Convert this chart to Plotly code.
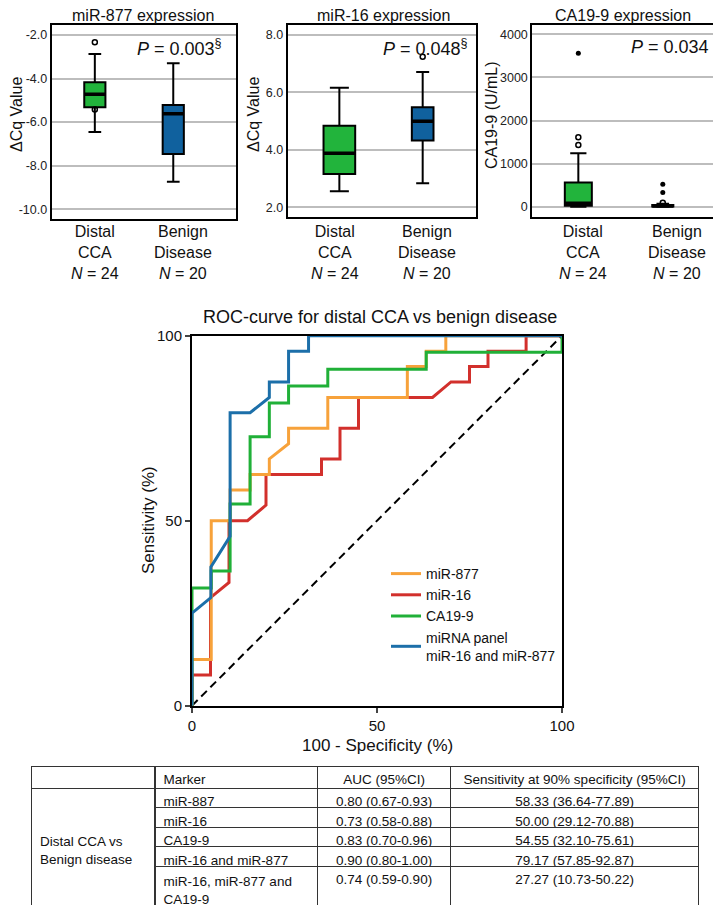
import plotly.graph_objects as go

W, H = 721, 906
PAGE_OFFSET = 8  # the page body margin shifts the figure by 8 px
FONT = "Liberation Sans, Arial, sans-serif"

# --- box plot summaries ---
groups = ["Distal<br>CCA", "Benign<br>Disease"]
group_n = [24, 20]
box_colors = ["#22B43C", "#10619E"]

mir877_q1 = [-5.32, -7.47]
mir877_median = [-4.72, -5.62]
mir877_q3 = [-4.17, -5.21]
mir877_lower = [-6.46, -8.74]
mir877_upper = [-2.87, -3.30]
mir877_out_x = [0, 0]
mir877_out_y = [-2.33, -5.42]

mir16_q1 = [3.16, 4.33]
mir16_median = [3.88, 5.00]
mir16_q3 = [4.84, 5.48]
mir16_lower = [2.56, 2.84]
mir16_upper = [6.16, 6.71]
mir16_out_x = [1]
mir16_out_y = [7.24]

ca199_q1 = [20, 6]
ca199_median = [80, 18]
ca199_q3 = [560, 38]
ca199_lower = [0, 0]
ca199_upper = [1240, 70]
ca199_open_x = [0, 0, 1]
ca199_open_y = [1432, 1611, 92]
ca199_far_x = [0, 1, 1]
ca199_far_y = [3560, 330, 520]

# --- ROC curves: 100 - specificity (x) vs sensitivity (y) ---
roc_877_x = [0, 0, 5.2, 5.2, 10.3, 10.3, 15.7, 15.7, 20.9, 20.9, 26.1, 26.1, 36.7, 36.7,
             58.2, 58.2, 63.3, 63.3, 68.6, 68.6, 100]
roc_877_y = [0, 12.5, 12.5, 50, 50, 58.3, 58.3, 62.5, 62.5, 66.7, 70.8, 75, 75, 83.3,
             83.3, 91.7, 91.7, 95.8, 95.8, 100, 100]
roc_16_x = [0, 0, 5, 5, 10, 10, 15, 20, 20, 35, 35, 40, 40, 45, 45, 65, 70, 75, 75, 80, 80,
            90.3, 90.3, 100]
roc_16_y = [0, 8.3, 8.3, 29.2, 33.3, 50, 50, 54.2, 62.5, 62.5, 66.7, 66.7, 75, 75, 83.3,
            83.3, 87.5, 87.5, 91.7, 91.7, 95.8, 95.8, 100, 100]
roc_ca_x = [0, 0, 5.2, 5.2, 10.3, 10.3, 15.7, 15.7, 20.9, 20.9, 26.1, 26.1, 36.7, 36.7,
            63.3, 63.3, 100, 100]
roc_ca_y = [0, 31.8, 31.8, 36.4, 36.4, 54.5, 54.5, 72.7, 72.7, 81.8, 81.8, 86.4, 86.4,
            90.9, 90.9, 95.5, 95.5, 100]
roc_panel_x = [0, 0, 5.1, 5.1, 10.3, 10.3, 15.7, 20.9, 20.9, 26.1, 26.1, 31.5, 31.5, 100]
roc_panel_y = [0, 25, 29.2, 37.5, 45.8, 79.2, 79.2, 83.3, 87.5, 87.5, 95.8, 95.8, 100, 100]

# --- table ---
table_header = ["Marker", "AUC (95%CI)", "Sensitivity at 90% specificity (95%CI)"]
table_markers = ["miR-887", "miR-16", "CA19-9", "miR-16 and miR-877",
                 "miR-16, miR-877 and<br>CA19-9"]
table_auc = ["0.80 (0.67-0.93)", "0.73 (0.58-0.88)", "0.83 (0.70-0.96)",
             "0.90 (0.80-1.00)", "0.74 (0.59-0.90)"]
table_sens = ["58.33 (36.64-77.89)", "50.00 (29.12-70.88)", "54.55 (32.10-75.61)",
              "79.17 (57.85-92.87)", "27.27 (10.73-50.22)"]
table_group = "Distal CCA vs<br>Benign disease"


def px(x):
    return (x - PAGE_OFFSET) / W


def py(y):
    return 1 - (y - PAGE_OFFSET) / H


def note(text, x, y, size, **kw):
    d = dict(text=text, x=px(x), y=py(y), xref="paper", yref="paper", showarrow=False,
             xanchor="center", yanchor="middle", font=dict(size=size))
    d.update(kw)
    return d


fig = go.Figure()

panels = [
    dict(ax="", title="miR-877 expression", ytitle="ΔCq Value", p="0.003<sup>§</sup>",
         q1=mir877_q1, med=mir877_median, q3=mir877_q3, lo=mir877_lower, hi=mir877_upper,
         widths=[0.27, 0.27], xr=[-0.55, 1.8], yr=[-10.45, -1.54],
         ticks=[-2, -4, -6, -8, -10], fmt="{:.1f}",
         dom=[51.7, 236], ydom=[25, 219], title_x=143, ytitle_x=16, p_x=224,
         label_x=[95, 183]),
    dict(ax="2", title="miR-16 expression", ytitle="ΔCq Value", p="0.048<sup>§</sup>",
         q1=mir16_q1, med=mir16_median, q3=mir16_q3, lo=mir16_lower, hi=mir16_upper,
         widths=[0.38, 0.26], xr=[-0.62, 1.64], yr=[1.65, 8.35],
         ticks=[2, 4, 6, 8], fmt="{:.1f}",
         dom=[287.7, 476], ydom=[25, 217.3], title_x=383, ytitle_x=253, p_x=470,
         label_x=[335, 427]),
    dict(ax="3", title="CA19-9 expression", ytitle="CA19-9 (U/mL)", p="0.034",
         q1=ca199_q1, med=ca199_median, q3=ca199_q3, lo=ca199_lower, hi=ca199_upper,
         widths=[0.32, 0.25], xr=[-0.545, 1.63], yr=[-246, 4216],
         ticks=[0, 1000, 2000, 3000, 4000], fmt="{:.0f}",
         dom=[532.3, 716], ydom=[25, 217.3], title_x=623, ytitle_x=491, p_x=711,
         label_x=[583, 677]),
]

annotations = []
for pnl in panels:
    xa, ya = "x" + pnl["ax"], "y" + pnl["ax"]
    for i in range(2):
        fig.add_trace(go.Box(
            x=[i], q1=[pnl["q1"][i]], median=[pnl["med"][i]], q3=[pnl["q3"][i]],
            lowerfence=[pnl["lo"][i]], upperfence=[pnl["hi"][i]],
            width=pnl["widths"][i], whiskerwidth=0.6, boxpoints=False,
            fillcolor=box_colors[i], line=dict(color="black", width=2),
            xaxis=xa, yaxis=ya, showlegend=False, hoverinfo="skip"))
        # thick median bar
        m = pnl["med"][i]
        fig.add_trace(go.Box(
            x=[i], q1=[m], median=[m], q3=[m], lowerfence=[m], upperfence=[m],
            width=pnl["widths"][i], whiskerwidth=0, boxpoints=False,
            fillcolor="rgba(0,0,0,0)", line=dict(color="black", width=3.5),
            xaxis=xa, yaxis=ya, showlegend=False, hoverinfo="skip"))
    key = pnl["ax"]
    fig.layout["xaxis" + key] = dict(
        domain=[px(pnl["dom"][0]), px(pnl["dom"][1])], range=pnl["xr"],
        anchor=ya, showticklabels=False, showgrid=False, zeroline=False,
        showline=True, linecolor="black", linewidth=2, mirror=True, ticks="")
    fig.layout["yaxis" + key] = dict(
        domain=[py(pnl["ydom"][1]), py(pnl["ydom"][0])], range=pnl["yr"],
        anchor=xa, tickvals=pnl["ticks"], ticktext=[pnl["fmt"].format(t) for t in pnl["ticks"]],
        showgrid=True, gridcolor="#BDBDBD", gridwidth=1.5, zeroline=False,
        showline=True, linecolor="black", linewidth=2, mirror=True, ticks="",
        tickfont=dict(size=12.5, color="#222"))
    annotations.append(note(pnl["title"], pnl["title_x"], 15, 16))
    annotations.append(note(pnl["ytitle"], pnl["ytitle_x"], 115, 16, textangle=-90))
    annotations.append(note("<i>P</i> = " + pnl["p"], pnl["p_x"], 47, 18, xanchor="right"))
    for i in range(2):
        annotations.append(note(f"{groups[i]}<br><i>N</i> = {group_n[i]}",
                                pnl["label_x"][i], 253, 16))

# outliers
open_marker = dict(symbol="circle-open", size=5, color="black", line=dict(width=1.5))
fig.add_trace(go.Scatter(x=mir877_out_x, y=mir877_out_y, mode="markers", xaxis="x", yaxis="y",
                         marker=open_marker, showlegend=False))
fig.add_trace(go.Scatter(x=mir16_out_x, y=mir16_out_y, mode="markers", xaxis="x2", yaxis="y2",
                         marker=open_marker, showlegend=False))
fig.add_trace(go.Scatter(x=ca199_open_x, y=ca199_open_y, mode="markers", xaxis="x3", yaxis="y3",
                         marker=open_marker, showlegend=False))
fig.add_trace(go.Scatter(x=ca199_far_x, y=ca199_far_y, mode="markers", xaxis="x3", yaxis="y3",
                         marker=dict(symbol="circle", size=5, color="black"), showlegend=False))

# --- ROC ---
fig.add_trace(go.Scatter(x=[0, 100], y=[0, 100], mode="lines", xaxis="x4", yaxis="y4",
                         line=dict(color="black", width=2, dash="8px,5px"),
                         showlegend=False, cliponaxis=False))
roc = [
    ("miR-16", roc_16_x, roc_16_y, "#D2302C", 2),
    ("miR-877", roc_877_x, roc_877_y, "#F7A23B", 1),
    ("CA19-9", roc_ca_x, roc_ca_y, "#20B038", 3),
    ("miRNA panel<br>miR-16 and miR-877", roc_panel_x, roc_panel_y, "#1C6FA9", 4),
]
for name, xs, ys, col, rank in roc:
    fig.add_trace(go.Scatter(x=xs, y=ys, mode="lines", name=name, legendrank=rank,
                             xaxis="x4", yaxis="y4", cliponaxis=False,
                             line=dict(color=col, width=3)))

roc_axis = dict(range=[0, 100], tickvals=[0, 50, 100], ticks="outside", ticklen=5,
                tickwidth=2, showline=True, linecolor="black", linewidth=2, mirror=True,
                showgrid=False, zeroline=False, tickfont=dict(size=15))
fig.layout["xaxis4"] = dict(domain=[px(192), px(562)], anchor="y4", **roc_axis)
fig.layout["yaxis4"] = dict(domain=[py(705.7), py(335.7)], anchor="x4", **roc_axis)
annotations.append(note("ROC-curve for distal CCA vs benign disease", 380, 317, 18))
annotations.append(note("Sensitivity (%)", 148, 520, 17, textangle=-90))
annotations.append(note("100 - Specificity (%)", 377, 745, 17))

# --- table (group column drawn as its own one-cell table to mimic the merged cell) ---
tab_top, tab_bot = 766, 906
cell_font = dict(family=FONT, size=13.5, color="#111")
fig.add_trace(go.Table(
    domain=dict(x=[px(155.6), px(698.6)], y=[py(tab_bot), py(tab_top)]),
    columnwidth=[162, 133, 248],
    header=dict(values=table_header, align=["left", "center", "center"], height=22,
                line=dict(color="#333", width=1), fill=dict(color="white"), font=cell_font),
    cells=dict(values=[table_markers, table_auc, table_sens],
               align=["left", "center", "center"], height=19.5,
               line=dict(color="#333", width=1), fill=dict(color="white"), font=cell_font)))
fig.add_trace(go.Table(
    domain=dict(x=[px(31.8), px(155.6)], y=[py(tab_bot), py(tab_top)]),
    header=dict(values=[""], height=22, line=dict(color="#333", width=1),
                fill=dict(color="rgba(0,0,0,0)")),
    cells=dict(values=[[""]], height=117, line=dict(color="#333", width=1),
               fill=dict(color="rgba(0,0,0,0)"))))
annotations.append(note(table_group, 38, 850, 13.5, xanchor="left", align="left"))

fig.update_layout(
    width=W, height=H, margin=dict(l=0, r=0, t=0, b=0, autoexpand=False),
    paper_bgcolor="white", plot_bgcolor="white",
    font=dict(family=FONT, color="#111"),
    annotations=annotations,
    legend=dict(x=px(386), y=py(558), xanchor="left", yanchor="top", font=dict(size=14),
                bgcolor="rgba(0,0,0,0)", itemwidth=30, tracegroupgap=0),
)

fig.write_html("out.html")
